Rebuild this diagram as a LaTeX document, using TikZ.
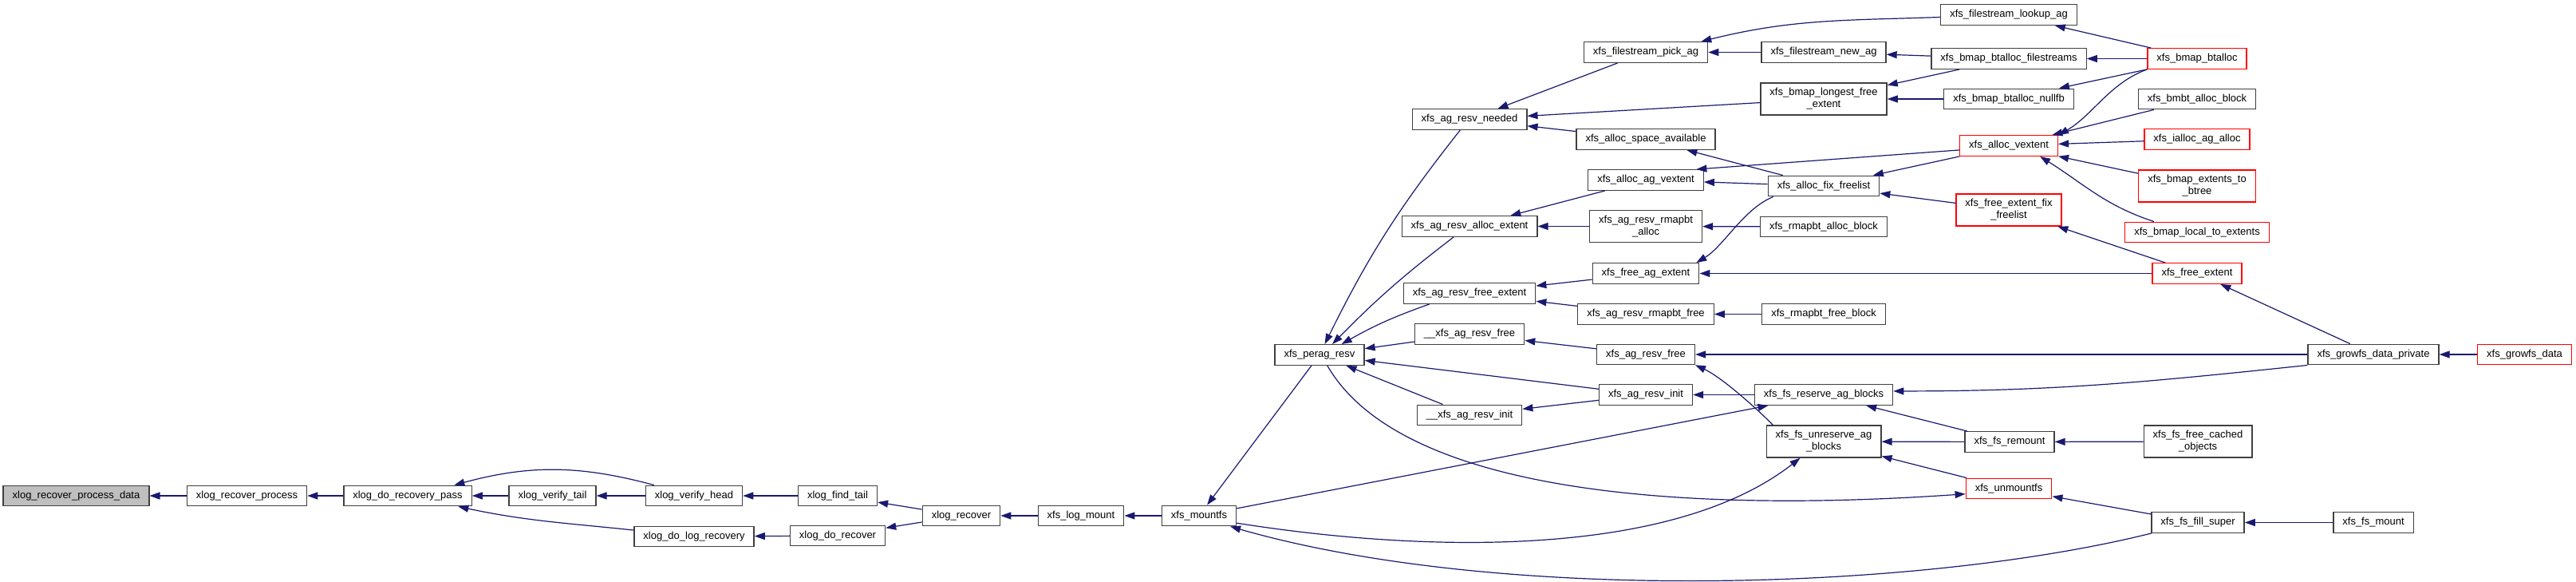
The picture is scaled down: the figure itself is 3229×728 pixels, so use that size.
\documentclass[tikz,border=0pt]{standalone}
\usepackage{fontspec}
\setmainfont{Liberation Sans}
\usepackage{tikz}
\usetikzlibrary{arrows.meta}
\definecolor{clrborder}{HTML}{404040}
\definecolor{clrred}{HTML}{FF0000}
\definecolor{clrroot}{HTML}{BFBFBF}
\definecolor{clrcall}{HTML}{191970}

\begin{document}
\begin{tikzpicture}[
    x=0.25pt, y=0.25pt,
    fn/.style={draw=clrborder, fill=white, line width=0.33pt, minimum height=6.4pt,
               inner xsep=2.875pt, inner ysep=0.5pt, font=\fontsize{3.25}{3.75}\selectfont, text=black},
    fnred/.style={fn, draw=clrred},
    fnroot/.style={fn, fill=clrroot},
    twoline/.style={align=center, minimum height=10pt},
    callline/.style={{Triangle[length=3.25pt, width=2.25pt]}-, color=clrcall, line width=0.3pt},
]
\useasboundingbox (0,0) rectangle (3229,-728);
\node[fnroot] (n_process_data) at (95.5,-621) {xlog\_recover\_process\_data};
\node[fn] (n_recover_process) at (309.5,-621) {xlog\_recover\_process};
\node[fn] (n_do_recovery_pass) at (511,-621) {xlog\_do\_recovery\_pass};
\node[fn] (n_verify_tail) at (692.5,-621) {xlog\_verify\_tail};
\node[fn] (n_verify_head) at (870,-621) {xlog\_verify\_head};
\node[fn] (n_do_log_recovery) at (870,-672) {xlog\_do\_log\_recovery};
\node[fn] (n_find_tail) at (1050,-621) {xlog\_find\_tail};
\node[fn] (n_do_recover) at (1050,-671) {xlog\_do\_recover};
\node[fn] (n_xlog_recover) at (1205,-646) {xlog\_recover};
\node[fn] (n_log_mount) at (1355,-646) {xfs\_log\_mount};
\node[fn] (n_mountfs) at (1503,-646) {xfs\_mountfs};
\node[fn] (n_perag_resv) at (1654,-444.5) {xfs\_perag\_resv};
\node[fn] (n_resv_needed) at (1842,-149.5) {xfs\_ag\_resv\_needed};
\node[fn] (n_resv_alloc_extent) at (1842,-283.5) {xfs\_ag\_resv\_alloc\_extent};
\node[fn] (n_resv_free_extent) at (1842,-367.5) {xfs\_ag\_resv\_free\_extent};
\node[fn] (n_resv_free_int) at (1842,-418.5) {\_\_xfs\_ag\_resv\_free};
\node[fn] (n_resv_init_int) at (1842,-520) {\_\_xfs\_ag\_resv\_init};
\node[fn] (n_pick_ag) at (2063,-65.5) {xfs\_filestream\_pick\_ag};
\node[fn] (n_space_available) at (2063,-174.5) {xfs\_alloc\_space\_available};
\node[fn] (n_ag_vextent) at (2063,-225.5) {xfs\_alloc\_ag\_vextent};
\node[fn, twoline] (n_rmapbt_alloc) at (2063,-283.5) {xfs\_ag\_resv\_rmapbt\\\_alloc};
\node[fn] (n_free_ag_extent) at (2063,-342.5) {xfs\_free\_ag\_extent};
\node[fn] (n_rmapbt_free) at (2063,-393.5) {xfs\_ag\_resv\_rmapbt\_free};
\node[fn] (n_resv_free) at (2063,-444) {xfs\_ag\_resv\_free};
\node[fn] (n_resv_init) at (2063,-494.5) {xfs\_ag\_resv\_init};
\node[fn] (n_new_ag) at (2286,-65.5) {xfs\_filestream\_new\_ag};
\node[fn, twoline] (n_longest_free) at (2286,-124) {xfs\_bmap\_longest\_free\\\_extent};
\node[fn] (n_fix_freelist) at (2286,-233) {xfs\_alloc\_fix\_freelist};
\node[fn] (n_rmapbt_alloc_block) at (2286,-284) {xfs\_rmapbt\_alloc\_block};
\node[fn] (n_rmapbt_free_block) at (2286,-393.5) {xfs\_rmapbt\_free\_block};
\node[fn] (n_reserve_blocks) at (2286,-494.5) {xfs\_fs\_reserve\_ag\_blocks};
\node[fn, twoline] (n_unreserve_blocks) at (2286,-553) {xfs\_fs\_unreserve\_ag\\\_blocks};
\node[fn] (n_lookup_ag) at (2518,-18.5) {xfs\_filestream\_lookup\_ag};
\node[fn] (n_btalloc_fs) at (2518,-73.5) {xfs\_bmap\_btalloc\_filestreams};
\node[fn] (n_btalloc_nullfb) at (2518,-124) {xfs\_bmap\_btalloc\_nullfb};
\node[fnred] (n_alloc_vextent) at (2518,-182.5) {xfs\_alloc\_vextent};
\node[fnred, twoline] (n_extent_fix_freelist) at (2518,-263) {xfs\_free\_extent\_fix\\\_freelist};
\node[fn] (n_remount) at (2519,-553.5) {xfs\_fs\_remount};
\node[fnred] (n_unmountfs) at (2518,-612) {xfs\_unmountfs};
\node[fnred] (n_bmap_btalloc) at (2754,-73.5) {xfs\_bmap\_btalloc};
\node[fn] (n_bmbt_alloc_block) at (2754,-124) {xfs\_bmbt\_alloc\_block};
\node[fnred] (n_ialloc_ag_alloc) at (2754,-174.5) {xfs\_ialloc\_ag\_alloc};
\node[fnred, twoline] (n_extents_to_btree) at (2754,-233) {xfs\_bmap\_extents\_to\\\_btree};
\node[fnred] (n_local_to_extents) at (2754,-291) {xfs\_bmap\_local\_to\_extents};
\node[fnred] (n_free_extent) at (2754,-342.5) {xfs\_free\_extent};
\node[fn, twoline] (n_free_cached) at (2755,-553) {xfs\_fs\_free\_cached\\\_objects};
\node[fn] (n_fill_super) at (2755,-654.5) {xfs\_fs\_fill\_super};
\node[fn] (n_growfs_private) at (2975,-444) {xfs\_growfs\_data\_private};
\node[fn] (n_fs_mount) at (2975,-654.5) {xfs\_fs\_mount};
\node[fnred] (n_growfs_data) at (3164.5,-444) {xfs\_growfs\_data};
\draw[callline] (n_process_data) -- (n_recover_process);
\draw[callline] (n_recover_process) -- (n_do_recovery_pass);
\draw[callline] (n_do_recovery_pass) -- (n_verify_tail);
\draw[callline] (n_do_recovery_pass.13) to[out=15, in=165] (n_verify_head.165);
\draw[callline] (n_do_recovery_pass.-12) to[out=-12, in=174] (n_do_log_recovery.174);
\draw[callline] (n_verify_tail) -- (n_verify_head);
\draw[callline] (n_verify_head) -- (n_find_tail);
\draw[callline] (n_do_log_recovery) -- (n_do_recover);
\draw[callline] (n_find_tail) -- (n_xlog_recover);
\draw[callline] (n_do_recover) -- (n_xlog_recover);
\draw[callline] (n_xlog_recover) -- (n_log_mount);
\draw[callline] (n_log_mount) -- (n_mountfs);
\draw[callline] (n_mountfs) -- (n_perag_resv);
\draw[callline] (n_mountfs.-19) to[out=-16, in=194, out distance=87.5pt, in distance=75pt] (n_fill_super.-167);
\draw[callline] (n_perag_resv.64) to[bend left=6] (n_resv_needed.229);
\draw[callline] (n_perag_resv.40) to[bend left=4] (n_resv_alloc_extent.214);
\draw[callline] (n_perag_resv.26) to[bend left=5] (n_resv_free_extent.195);
\draw[callline] (n_perag_resv) -- (n_resv_free_int);
\draw[callline] (n_perag_resv) -- (n_resv_init);
\draw[callline] (n_perag_resv) -- (n_resv_init_int);
\draw[callline] (n_resv_init_int) -- (n_resv_init);
\draw[callline] (n_resv_free_int) -- (n_resv_free);
\draw[callline] (n_resv_free_extent) -- (n_free_ag_extent);
\draw[callline] (n_resv_free_extent) -- (n_rmapbt_free);
\draw[callline] (n_resv_alloc_extent) -- (n_ag_vextent);
\draw[callline] (n_resv_alloc_extent) -- (n_rmapbt_alloc);
\draw[callline] (n_resv_needed) -- (n_pick_ag);
\draw[callline] (n_resv_needed) -- (n_longest_free);
\draw[callline] (n_resv_needed) -- (n_space_available);
\draw[callline] (n_pick_ag.11) to[out=14, in=182] (n_lookup_ag.182);
\draw[callline] (n_pick_ag) -- (n_new_ag);
\draw[callline] (n_new_ag) -- (n_btalloc_fs);
\draw[callline] (n_longest_free) -- (n_btalloc_fs);
\draw[callline] (n_longest_free) -- (n_btalloc_nullfb);
\draw[callline] (n_space_available) -- (n_fix_freelist);
\draw[callline] (n_ag_vextent) -- (n_fix_freelist);
\draw[callline] (n_ag_vextent.12) -- (n_alloc_vextent.185);
\draw[callline] (n_fix_freelist) -- (n_alloc_vextent);
\draw[callline] (n_fix_freelist) -- (n_extent_fix_freelist);
\draw[callline] (n_free_ag_extent.12) to[out=31, in=202, distance=10pt] (n_fix_freelist.192);
\draw[callline] (n_rmapbt_alloc) -- (n_rmapbt_alloc_block);
\draw[callline] (n_rmapbt_free) -- (n_rmapbt_free_block);
\draw[callline] (n_free_ag_extent) -- (n_free_extent);
\draw[callline] (n_resv_free) -- (n_growfs_private);
\draw[callline] (n_resv_free.-12) to[out=-25, in=135, distance=8.75pt] (n_unreserve_blocks.162);
\draw[callline] (n_resv_init) -- (n_reserve_blocks);
\draw[callline] (n_reserve_blocks) -- (n_mountfs);
\draw[callline] (n_reserve_blocks.3) to[out=0, in=186] (n_growfs_private.south west);
\draw[callline] (n_reserve_blocks) -- (n_remount);
\draw[callline] (n_unreserve_blocks) -- (n_remount);
\draw[callline] (n_unreserve_blocks) -- (n_unmountfs);
\draw[callline] (n_unreserve_blocks.-145) to[out=-142, in=-9, out distance=50pt, in distance=62.5pt] (n_mountfs.-11);
\draw[callline] (n_unmountfs.187) to[out=184, in=-60, out distance=75pt, in distance=50pt] (n_perag_resv.-54);
\draw[callline] (n_unmountfs) -- (n_fill_super);
\draw[callline] (n_fill_super) -- (n_fs_mount);
\draw[callline] (n_remount) -- (n_free_cached);
\draw[callline] (n_lookup_ag) -- (n_bmap_btalloc);
\draw[callline] (n_btalloc_fs) -- (n_bmap_btalloc);
\draw[callline] (n_btalloc_nullfb) -- (n_bmap_btalloc);
\draw[callline] (n_alloc_vextent.12) to[out=30, in=200, distance=12.5pt] (n_bmap_btalloc.south west);
\draw[callline] (n_alloc_vextent) -- (n_bmbt_alloc_block);
\draw[callline] (n_alloc_vextent) -- (n_ialloc_ag_alloc);
\draw[callline] (n_alloc_vextent) -- (n_extents_to_btree);
\draw[callline] (n_alloc_vextent.-19) to[out=-32, in=162] (n_local_to_extents.166);
\draw[callline] (n_extent_fix_freelist) -- (n_free_extent);
\draw[callline] (n_free_extent) -- (n_growfs_private);
\draw[callline] (n_growfs_private) -- (n_growfs_data);
\end{tikzpicture}
\end{document}
